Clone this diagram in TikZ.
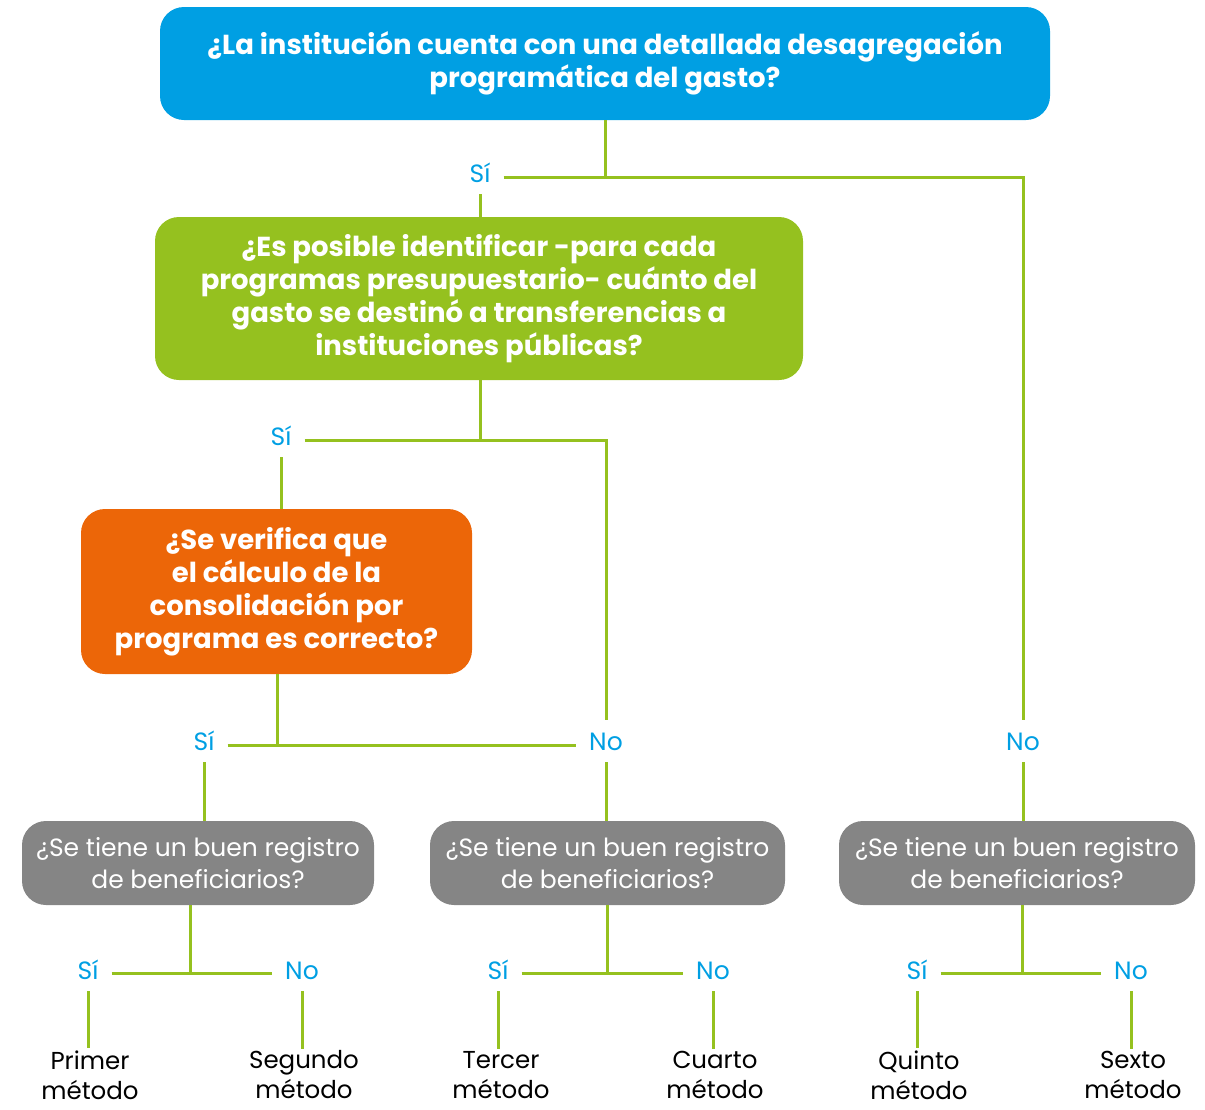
\documentclass[tikz,border=0pt]{standalone}
\usepackage{fontspec}
\setmainfont{Poppins}
\definecolor{qblue}{HTML}{009FE3}
\definecolor{qgreen}{HTML}{95C11F}
\definecolor{qorange}{HTML}{EC6608}
\definecolor{qgray}{HTML}{858585}
\tikzset{
  qbox/.style={rectangle, rounded corners=24pt, text=white, align=center, inner sep=0pt,
    font=\fontsize{27.5}{33}\selectfont\bfseries},
  gbox/.style={rectangle, rounded corners=24pt, fill=qgray, text=white, align=center, inner sep=0pt,
    font=\fontsize{25}{32}\selectfont},
  lab/.style={text=qblue, font=\fontsize{25}{30}\selectfont, text height=18pt, text depth=0pt,
    inner xsep=13pt, inner ysep=12pt},
  meth/.style={text=black, align=center, font=\fontsize{24.5}{30}\selectfont, inner sep=2pt},
  conn/.style={draw=qgreen, line width=3pt}
}
\begin{document}
\begin{tikzpicture}[x=1pt,y=-1pt]
\useasboundingbox (0,0) rectangle (1205,1109);
% main boxes
\node[qbox, fill=qblue, minimum width=890, minimum height=113] (q1) at (605,63.5)
  {¿La institución cuenta con una detallada desagregación\\programática del gasto?};
\node[qbox, fill=qgreen, minimum width=648, minimum height=163] (q2) at (479,298.5)
  {¿Es posible identificar -para cada\\programas presupuestario- cuánto del\\gasto se destinó a transferencias a\\instituciones públicas?};
\node[qbox, fill=qorange, minimum width=391, minimum height=165] (q3) at (276.5,591.5)
  {¿Se verifica que\\el cálculo de la\\consolidación por\\programa es correcto?};
% gray boxes
\node[gbox, minimum width=352, minimum height=84] (g1) at (198,863)
  {¿Se tiene un buen registro\\de beneficiarios?};
\node[gbox, minimum width=355, minimum height=84] (g2) at (607.5,863)
  {¿Se tiene un buen registro\\de beneficiarios?};
\node[gbox, minimum width=356, minimum height=84] (g3) at (1017,863)
  {¿Se tiene un buen registro\\de beneficiarios?};
% labels
\node[lab] (s1) at (480,173) {Sí};
\node[lab] (s2) at (281,436) {Sí};
\node[lab] (s3) at (204,741) {Sí};
\node[lab] (n2) at (606,741) {No};
\node[lab] (n1) at (1023,741) {No};
\node[lab] (s4) at (88,970) {Sí};
\node[lab] (n4) at (302,970) {No};
\node[lab] (s5) at (498,970) {Sí};
\node[lab] (n5) at (713,970) {No};
\node[lab] (s6) at (917,970) {Sí};
\node[lab] (n6) at (1131,970) {No};
% methods
\node[meth] (m1) at (90,1075) {Primer\\método};
\node[meth] (m2) at (304,1075) {Segundo\\método};
\node[meth] (m3) at (501,1075) {Tercer\\método};
\node[meth] (m4) at (715,1075) {Cuarto\\método};
\node[meth] (m5) at (919,1075) {Quinto\\método};
\node[meth] (m6) at (1133,1075) {Sexto\\método};
% junctions
\coordinate (j1) at (605,177);
\coordinate (j2) at (480,440);
\coordinate (j3) at (277,745);
\coordinate (j4) at (190,973);
\coordinate (j5) at (607,973);
\coordinate (j6) at (1022,973);
% connectors
\draw[conn] (q1.south -| j1) -- (j1);
\draw[conn] (s1.east |- j1) -- (j1) -| (n1.north);
\draw[conn] (s1.south) -- (s1.south |- q2.north);
\draw[conn] (q2.south -| j2) -- (j2);
\draw[conn] (s2.east |- j2) -- (j2) -| (n2.north);
\draw[conn] (s2.south) -- (s2.south |- q3.north);
\draw[conn] (q3.south -| j3) -- (j3);
\draw[conn] (s3.east |- j3) -- (n2.west |- j3);
\draw[conn] (s3.south) -- (s3.south |- g1.north);
\draw[conn] (n2.south) -- (n2.south |- g2.north);
\draw[conn] (n1.south) -- (n1.south |- g3.north);
\draw[conn] (g1.south -| j4) -- (j4);
\draw[conn] (s4.east |- j4) -- (n4.west |- j4);
\draw[conn] (g2.south -| j5) -- (j5);
\draw[conn] (s5.east |- j5) -- (n5.west |- j5);
\draw[conn] (g3.south -| j6) -- (j6);
\draw[conn] (s6.east |- j6) -- (n6.west |- j6);
\draw[conn] (s4.south) -- (s4.south |- m1.north);
\draw[conn] (n4.south) -- (n4.south |- m2.north);
\draw[conn] (s5.south) -- (s5.south |- m3.north);
\draw[conn] (n5.south) -- (n5.south |- m4.north);
\draw[conn] (s6.south) -- (s6.south |- m5.north);
\draw[conn] (n6.south) -- (n6.south |- m6.north);
\end{tikzpicture}
\end{document}
